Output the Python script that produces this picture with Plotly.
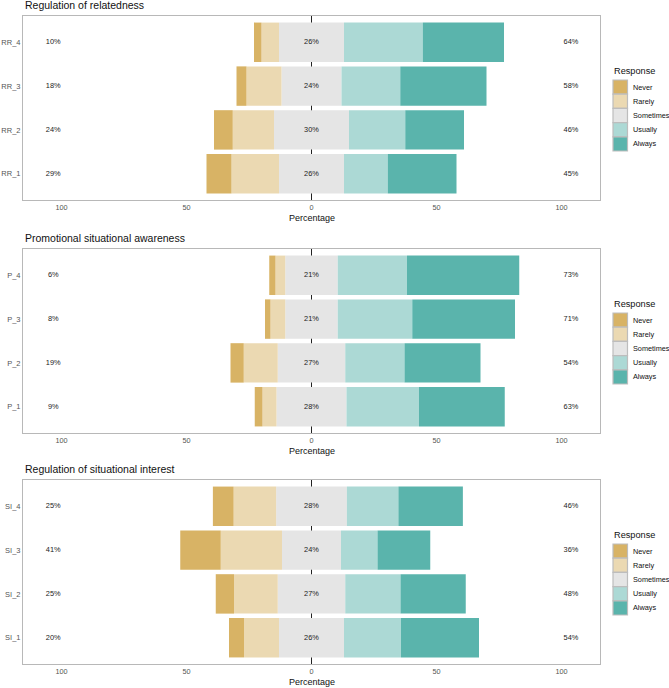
import plotly.graph_objects as go

W, H = 669, 688

responses = ["Never", "Rarely", "Sometimes", "Usually", "Always"]
colors = {"Never": "#D8B365", "Rarely": "#EBD9B2", "Sometimes": "#E5E5E5",
          "Usually": "#ACD9D5", "Always": "#5AB4AC"}

# Panel 1: Regulation of relatedness (bottom to top)
rr_items = ["RR_1", "RR_2", "RR_3", "RR_4"]
rr_never = [10, 7.5, 4, 3]
rr_rarely = [19, 16.5, 14, 7]
rr_sometimes = [26, 30, 24, 26]
rr_usually = [17.5, 22.5, 23.5, 31.5]
rr_always = [27.5, 23.5, 34.5, 32.5]

# Panel 2: Promotional situational awareness
p_items = ["P_1", "P_2", "P_3", "P_4"]
p_never = [3.1, 5.3, 2.2, 2.5]
p_rarely = [5.6, 13.6, 5.9, 3.9]
p_sometimes = [28, 27, 21, 21]
p_usually = [29, 23.7, 29.8, 27.7]
p_always = [34.3, 30.4, 41.1, 44.9]

# Panel 3: Regulation of situational interest
si_items = ["SI_1", "SI_2", "SI_3", "SI_4"]
si_never = [6, 7.3, 16.2, 8.3]
si_rarely = [14, 17.5, 24.5, 17.0]
si_sometimes = [26, 27, 23.6, 28.3]
si_usually = [22.8, 22.1, 14.6, 20.6]
si_always = [31.2, 26.1, 21.1, 25.8]

panels = [
    ("Regulation of relatedness", rr_items, rr_never, rr_rarely, rr_sometimes, rr_usually, rr_always),
    ("Promotional situational awareness", p_items, p_never, p_rarely, p_sometimes, p_usually, p_always),
    ("Regulation of situational interest", si_items, si_never, si_rarely, si_sometimes, si_usually, si_always),
]

FONT = "Liberation Sans, Arial, sans-serif"
box_tops = [16, 249, 480]
box_h = 184
x_left, x_right = 23, 600

def px(x):
    return x / W

def py(y):
    return 1 - y / H

fig = go.Figure()
shapes = []
annotations = []

def add_bar(items, vals, bases, color, xa, ya):
    fig.add_trace(go.Bar(y=items, x=vals, base=bases, orientation="h",
                         marker=dict(color=color, line=dict(width=0)),
                         xaxis=xa, yaxis=ya, showlegend=False, hoverinfo="skip"))

for i, (title, items, nev, rar, som, usu, alw) in enumerate(panels):
    n = i + 1
    xa = "x" if n == 1 else f"x{n}"
    ya = "y" if n == 1 else f"y{n}"
    half = [s / 2 for s in som]
    # diverging stack: neutral centred on zero
    add_bar(items, som, [-h for h in half], colors["Sometimes"], xa, ya)
    add_bar(items, rar, [-(h + r) for h, r in zip(half, rar)], colors["Rarely"], xa, ya)
    add_bar(items, nev, [-(h + r + v) for h, r, v in zip(half, rar, nev)], colors["Never"], xa, ya)
    add_bar(items, usu, half, colors["Usually"], xa, ya)
    add_bar(items, alw, [h + u for h, u in zip(half, usu)], colors["Always"], xa, ya)

    low = [f"{round(a + b)}%" for a, b in zip(nev, rar)]
    mid = [f"{round(s)}%" for s in som]
    high = [f"{round(a + b)}%" for a, b in zip(usu, alw)]
    tf = dict(family=FONT, size=7.4, color="#222222")
    fig.add_trace(go.Scatter(y=items, x=[-103.3] * len(items), mode="text", text=low,
                             textfont=tf, xaxis=xa, yaxis=ya, showlegend=False, hoverinfo="skip"))
    fig.add_trace(go.Scatter(y=items, x=[0] * len(items), mode="text", text=mid,
                             textfont=tf, xaxis=xa, yaxis=ya, showlegend=False, hoverinfo="skip"))
    fig.add_trace(go.Scatter(y=items, x=[103.8] * len(items), mode="text", text=high,
                             textfont=tf, xaxis=xa, yaxis=ya, showlegend=False, hoverinfo="skip"))

    top = box_tops[i]
    bot = top + box_h
    xkey = "xaxis" if n == 1 else f"xaxis{n}"
    ykey = "yaxis" if n == 1 else f"yaxis{n}"
    fig.update_layout(**{
        xkey: dict(domain=[px(x_left), px(x_right)], range=[-115.4, 115.4], anchor=ya,
                   tickvals=[-100, -50, 0, 50, 100], ticktext=["100", "50", "0", "50", "100"],
                   showgrid=False, zeroline=False, showline=True, mirror=True,
                   linecolor="#b8b8b8", linewidth=1, ticks="",
                   tickfont=dict(family=FONT, size=7.3, color="#555555"), fixedrange=True),
        ykey: dict(domain=[py(bot), py(top)], range=[-0.6, 3.6], anchor=xa,
                   type="category", categoryorder="array", categoryarray=items,
                   showgrid=False, zeroline=False, showline=True, mirror=True,
                   linecolor="#b8b8b8", linewidth=1, ticks="",
                   tickfont=dict(family=FONT, size=7.5, color="#555555"), fixedrange=True),
    })
    # zero line behind bars
    shapes.append(dict(type="line", xref=xa, yref=ya, x0=0, x1=0, y0=-0.6, y1=3.6,
                       line=dict(color="#222222", width=1), layer="below"))
    # panel title
    annotations.append(dict(text=title, xref="paper", yref="paper", x=px(x_left), y=py(top - 11),
                            xanchor="left", yanchor="middle", showarrow=False,
                            font=dict(family=FONT, size=10.5, color="#111111")))
    # x-axis title
    annotations.append(dict(text="Percentage", xref=xa, yref="paper", x=0, y=py(bot + 18),
                            xanchor="center", yanchor="middle", showarrow=False,
                            font=dict(family=FONT, size=9, color="#111111")))
    # legend
    off = top - 16
    annotations.append(dict(text="Response", xref="paper", yref="paper", x=px(612), y=py(off + 71),
                            xanchor="left", yanchor="middle", showarrow=False,
                            font=dict(family=FONT, size=9.2, color="#111111")))
    for k, r in enumerate(responses):
        y0 = off + 80 + k * 14.2
        shapes.append(dict(type="rect", xref="paper", yref="paper",
                           x0=px(613), x1=px(627.5), y0=py(y0), y1=py(y0 + 14.2),
                           fillcolor=colors[r], line=dict(color="#bdbdbd", width=1.2), layer="above"))
        annotations.append(dict(text=r, xref="paper", yref="paper", x=px(631), y=py(y0 + 7.1),
                                xanchor="left", yanchor="middle", showarrow=False,
                                font=dict(family=FONT, size=7.3, color="#111111")))

fig.update_layout(
    width=W, height=H, margin=dict(l=0, r=0, t=0, b=0),
    barmode="overlay", bargap=0.1,
    plot_bgcolor="white", paper_bgcolor="white",
    showlegend=False, shapes=shapes, annotations=annotations,
    font=dict(family=FONT),
)

fig.write_html("out.html")
